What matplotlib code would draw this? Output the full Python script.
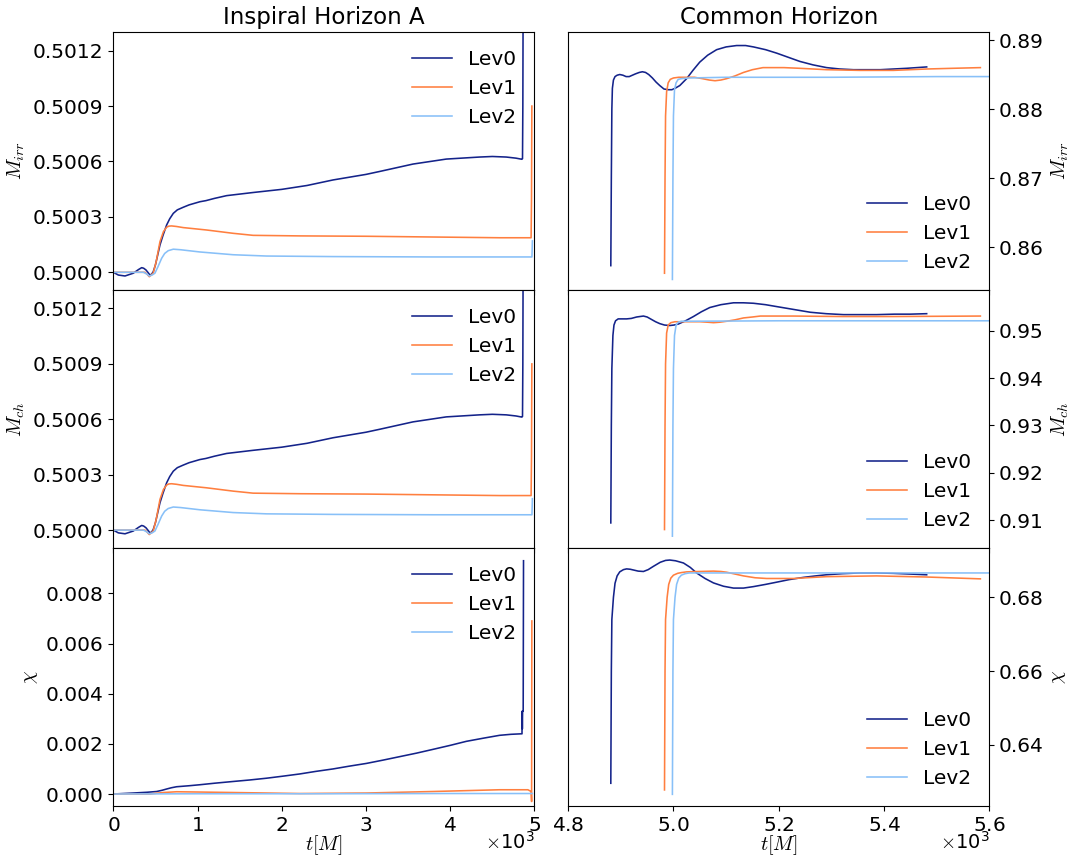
import matplotlib
matplotlib.use("Agg")
import matplotlib.pyplot as plt
from matplotlib.ticker import FormatStrFormatter, FixedLocator

plt.rcParams['mathtext.fontset'] = 'cm'
plt.rcParams['font.family'] = ['DejaVu Sans']

# ---------------- data ----------------
labels = ["Lev0", "Lev1", "Lev2"]
colors = ["#14238a", "#ff7f3f", "#88c0f8"]

# Inspiral horizon A : M_irr
ia_mirr_t0 = [0, 60, 139, 237, 300, 337, 360, 388, 410, 435, 455, 474, 500, 520, 554, 590, 633,
              670, 712, 760, 830, 900, 1028, 1100, 1200, 1345, 1660, 2000, 2300, 2609, 3000,
              3163, 3558, 3953, 4348, 4500, 4665, 4780, 4850, 4858, 4862, 4866]
ia_mirr_v0 = [0.5, 0.499985, 0.49998, 0.499995, 0.500015, 0.500025, 0.500022, 0.5000125, 0.5,
              0.499985, 0.49999, 0.500003, 0.50004, 0.50008, 0.500148, 0.5002, 0.500256,
              0.50029, 0.500319, 0.500338, 0.500352, 0.500365, 0.500382, 0.500388, 0.5004,
              0.500415, 0.500432, 0.500449, 0.50047, 0.5005, 0.50053, 0.500546, 0.500586,
              0.500613, 0.500624, 0.500627, 0.500624, 0.500618, 0.500612, 0.500615, 0.5009,
              0.5016]
ia_mirr_t1 = [0, 317, 376, 400, 427, 450, 474, 510, 554, 595, 633, 660, 692, 750, 830, 1107,
              1423, 1660, 2214, 3005, 3795, 4586, 4960, 4965, 4969]
ia_mirr_v1 = [0.5, 0.5, 0.5, 0.49999, 0.499976, 0.499985, 0.499995, 0.50006, 0.500166, 0.50022,
              0.500244, 0.50025, 0.500251, 0.500248, 0.500242, 0.500229, 0.500211, 0.5002,
              0.500197, 0.500195, 0.500191, 0.500187, 0.500187, 0.5004, 0.5009]
ia_mirr_t2 = [0, 356, 400, 427, 460, 494, 530, 574, 610, 652, 712, 800, 1028, 1423, 1819, 2609,
              3795, 4970, 4973, 4975]
ia_mirr_v2 = [0.5, 0.5, 0.49999, 0.49998, 0.499985, 0.499995, 0.50003, 0.500076, 0.500102,
              0.500117, 0.500125, 0.500122, 0.50011, 0.500095, 0.500088, 0.500085, 0.500083,
              0.500083, 0.50013, 0.50017]

# Inspiral horizon A : M_ch
ia_mch_t0 = [0, 60, 139, 237, 300, 337, 360, 388, 410, 435, 455, 474, 500, 520, 554, 590, 633,
             670, 712, 760, 830, 900, 1028, 1100, 1200, 1345, 1660, 2000, 2300, 2609, 3000,
             3163, 3558, 3953, 4348, 4500, 4665, 4780, 4850, 4858, 4862, 4866]
ia_mch_v0 = [0.5, 0.499985, 0.49998, 0.499995, 0.500015, 0.500025, 0.500022, 0.5000125, 0.5,
             0.499985, 0.49999, 0.500003, 0.50004, 0.50008, 0.500148, 0.5002, 0.500256,
             0.50029, 0.500319, 0.500338, 0.500352, 0.500365, 0.500382, 0.500388, 0.5004,
             0.500415, 0.500432, 0.500449, 0.50047, 0.5005, 0.50053, 0.500546, 0.500586,
             0.500613, 0.500624, 0.500627, 0.500624, 0.500618, 0.500612, 0.500615, 0.5009,
             0.5016]
ia_mch_t1 = [0, 317, 376, 400, 427, 450, 474, 510, 554, 595, 633, 660, 692, 750, 830, 1107,
             1423, 1660, 2214, 3005, 3795, 4586, 4960, 4965, 4969]
ia_mch_v1 = [0.5, 0.5, 0.5, 0.49999, 0.499976, 0.499985, 0.499995, 0.50006, 0.500166, 0.50022,
             0.500244, 0.50025, 0.500251, 0.500248, 0.500242, 0.500229, 0.500211, 0.5002,
             0.500197, 0.500195, 0.500191, 0.500187, 0.500187, 0.5004, 0.5009]
ia_mch_t2 = [0, 356, 400, 427, 460, 494, 530, 574, 610, 652, 712, 800, 1028, 1423, 1819, 2609,
             3795, 4970, 4973, 4975]
ia_mch_v2 = [0.5, 0.5, 0.49999, 0.49998, 0.499985, 0.499995, 0.50003, 0.500076, 0.500102,
             0.500117, 0.500125, 0.500122, 0.50011, 0.500095, 0.500088, 0.500085, 0.500083,
             0.500083, 0.50013, 0.50017]

# Inspiral horizon A : chi
ia_chi_t0 = [0, 237, 400, 514, 580, 633, 690, 751, 900, 1028, 1200, 1423, 1620, 1819, 2010,
             2214, 2400, 2609, 2800, 3005, 3200, 3400, 3600, 3795, 4000, 4191, 4400, 4586,
             4720, 4843, 4852, 4853, 4856, 4859, 4866, 4870]
ia_chi_v0 = [0, 0.00004, 0.00007, 0.0001, 0.00015, 0.0002, 0.00025, 0.00029, 0.00033, 0.00037,
             0.00043, 0.0005, 0.00056, 0.00063, 0.00071, 0.0008, 0.0009, 0.001, 0.00111,
             0.00122, 0.00135, 0.00149, 0.00163, 0.00178, 0.00194, 0.0021, 0.00223, 0.00234,
             0.00238, 0.0024, 0.0024, 0.0033, 0.0026, 0.0033, 0.0033, 0.0093]
ia_chi_t1 = [0, 435, 510, 593, 751, 1000, 1423, 2214, 3005, 3795, 4586, 4922, 4961, 4966, 4969]
ia_chi_v1 = [0, 0, 0.00003, 0.00006, 0.00009, 0.00008, 0.00006, 0.00002, 0.00004, 0.0001,
             0.00017, 0.00017, 0.0001, -0.0003, 0.0069]
ia_chi_t2 = [0, 1000, 2500, 4000, 4975]
ia_chi_v2 = [0, 0.00001, 0.00001, 0.00002, 0.00002]

# Common horizon : M_irr
ch_mirr_t0 = [4881, 4882, 4883, 4884, 4886, 4889, 4893, 4898, 4904, 4910, 4916, 4922, 4928,
              4935, 4941, 4947, 4953, 4960, 4967, 4974, 4982, 4990, 4997, 5003, 5012, 5025,
              5037, 5050, 5065, 5082, 5100, 5120, 5137, 5152, 5175, 5196, 5218, 5240, 5265,
              5291, 5316, 5342, 5368, 5393, 5418, 5443, 5462, 5481]
ch_mirr_v0 = [0.8573, 0.8700, 0.8800, 0.8830, 0.8842, 0.8847, 0.8849, 0.8850, 0.8849, 0.8847,
              0.8847, 0.8849, 0.8851, 0.8853, 0.8854, 0.8853, 0.8850, 0.8845, 0.8839, 0.8834,
              0.8829, 0.8828, 0.8828, 0.8830, 0.8834, 0.8844, 0.8856, 0.8868, 0.8878, 0.8886,
              0.8890, 0.8892, 0.8892, 0.8890, 0.8886, 0.8881, 0.8875, 0.8869, 0.8864, 0.8860,
              0.8858, 0.8857, 0.8857, 0.8857, 0.8858, 0.8859, 0.8860, 0.8861]
ch_mirr_t1 = [4983, 4984, 4985, 4987, 4990, 4994, 5000, 5010, 5025, 5040, 5055, 5068, 5079,
              5090, 5101, 5117, 5133, 5150, 5170, 5189, 5210, 5240, 5291, 5354, 5418, 5481,
              5530, 5583]
ch_mirr_v1 = [0.8562, 0.8700, 0.8790, 0.8825, 0.8838, 0.8843, 0.8845, 0.8846, 0.8846, 0.8846,
              0.8844, 0.8842, 0.8841, 0.8842, 0.8844, 0.8848, 0.8853, 0.8857, 0.8860, 0.8860,
              0.8860, 0.8859, 0.8857, 0.8856, 0.8856, 0.8858, 0.8859, 0.8860]
ch_mirr_t2 = [4998, 4999, 5000, 5002, 5005, 5009, 5015, 5030, 5100, 5300, 5500, 5620]
ch_mirr_v2 = [0.8553, 0.8700, 0.8790, 0.8828, 0.8838, 0.8843, 0.8844, 0.8845, 0.8846, 0.8846,
              0.8847, 0.8847]

# Common horizon : M_ch
ch_mch_t0 = [4881, 4882, 4883, 4885, 4887, 4890, 4895, 4903, 4911, 4920, 4930, 4943, 4950,
             4958, 4966, 4974, 4983, 4993, 5001, 5009, 5023, 5038, 5053, 5069, 5090, 5114,
             5133, 5152, 5175, 5196, 5228, 5260, 5290, 5323, 5355, 5386, 5420, 5450, 5481]
ch_mch_v0 = [0.9094, 0.9300, 0.9420, 0.9490, 0.9512, 0.9521, 0.9525, 0.9525, 0.9525, 0.9526,
             0.9529, 0.9531, 0.9529, 0.9524, 0.9519, 0.9515, 0.9512, 0.9511, 0.9512, 0.9514,
             0.9521, 0.9530, 0.9540, 0.9549, 0.9555, 0.9559, 0.9559, 0.9558, 0.9555, 0.9551,
             0.9545, 0.9539, 0.9536, 0.9534, 0.9534, 0.9534, 0.9535, 0.9535, 0.9536]
ch_mch_t1 = [4983, 4984, 4985, 4987, 4990, 4995, 5003, 5025, 5050, 5065, 5076, 5088, 5101,
             5117, 5133, 5150, 5165, 5228, 5320, 5418, 5583]
ch_mch_v1 = [0.9080, 0.9300, 0.9430, 0.9495, 0.9512, 0.9517, 0.9519, 0.9519, 0.9519, 0.9518,
             0.9517, 0.9518, 0.9520, 0.9523, 0.9527, 0.9529, 0.9531, 0.9531, 0.9530, 0.9530,
             0.9531]
ch_mch_t2 = [4998, 4999, 5000, 5002, 5005, 5009, 5015, 5030, 5200, 5400, 5620]
ch_mch_v2 = [0.9066, 0.9300, 0.9420, 0.9490, 0.9512, 0.9518, 0.9520, 0.9520, 0.9521, 0.9521,
             0.9521]

# Common horizon : chi
ch_chi_t0 = [4881, 4882, 4883, 4886, 4889, 4893, 4898, 4905, 4911, 4918, 4924, 4933, 4943,
             4952, 4962, 4975, 4985, 4993, 5004, 5019, 5032, 5044, 5060, 5076, 5095, 5114,
             5133, 5152, 5175, 5196, 5220, 5247, 5270, 5290, 5320, 5353, 5385, 5417, 5450,
             5481]
ch_chi_v0 = [0.6296, 0.6600, 0.6740, 0.6800, 0.6838, 0.6858, 0.6869, 0.6875, 0.6877, 0.6876,
             0.6874, 0.6871, 0.6870, 0.6875, 0.6884, 0.6895, 0.6900, 0.6901, 0.6899, 0.6893,
             0.6881, 0.6866, 0.6851, 0.6839, 0.6830, 0.6825, 0.6825, 0.6829, 0.6835, 0.6841,
             0.6848, 0.6854, 0.6858, 0.6861, 0.6864, 0.6866, 0.6866, 0.6865, 0.6863, 0.6861]
ch_chi_t1 = [4983, 4984, 4985, 4988, 4991, 4995, 5000, 5008, 5015, 5025, 5050, 5076, 5090,
             5101, 5117, 5133, 5155, 5177, 5228, 5291, 5386, 5481, 5583]
ch_chi_v1 = [0.6278, 0.6600, 0.6740, 0.6800, 0.6835, 0.6852, 0.6860, 0.6865, 0.6867, 0.6869,
             0.6870, 0.6871, 0.6870, 0.6868, 0.6863, 0.6858, 0.6853, 0.6851, 0.6851, 0.6856,
             0.6858, 0.6855, 0.6850]
ch_chi_t2 = [4998, 4999, 5000, 5003, 5006, 5010, 5015, 5022, 5030, 5100, 5300, 5620]
ch_chi_v2 = [0.6266, 0.6600, 0.6740, 0.6800, 0.6835, 0.6852, 0.6860, 0.6864, 0.6866, 0.6866,
             0.6866, 0.6866]

left_ticks_mass = [0.5000, 0.5003, 0.5006, 0.5009, 0.5012]
left_ticks_chi = [0.000, 0.002, 0.004, 0.006, 0.008]
right_ticks_mirr = [0.86, 0.87, 0.88, 0.89]
right_ticks_mch = [0.91, 0.92, 0.93, 0.94, 0.95]
right_ticks_chi = [0.64, 0.66, 0.68]
left_xticks = [0, 1000, 2000, 3000, 4000, 5000]
right_xticks = [4800, 5000, 5200, 5400, 5600]

# ---------------- figure ----------------
fig, axes = plt.subplots(3, 2, figsize=(10.7, 8.56), dpi=100)
fig.subplots_adjust(left=0.1059, right=0.9246, top=0.9626, bottom=0.0584, hspace=0, wspace=0.08)

FS = 14.5
left_data = [
    ([ia_mirr_t0, ia_mirr_t1, ia_mirr_t2], [ia_mirr_v0, ia_mirr_v1, ia_mirr_v2], r'$M_{irr}$',
     (0.499904, 0.501301), left_ticks_mass, '%.4f'),
    ([ia_mch_t0, ia_mch_t1, ia_mch_t2], [ia_mch_v0, ia_mch_v1, ia_mch_v2], r'$M_{ch}$',
     (0.499903, 0.501300), left_ticks_mass, '%.4f'),
    ([ia_chi_t0, ia_chi_t1, ia_chi_t2], [ia_chi_v0, ia_chi_v1, ia_chi_v2], r'$\chi$',
     (-0.000478, 0.009807), left_ticks_chi, '%.3f'),
]
right_data = [
    ([ch_mirr_t0, ch_mirr_t1, ch_mirr_t2], [ch_mirr_v0, ch_mirr_v1, ch_mirr_v2], r'$M_{irr}$',
     (0.85377, 0.89116), right_ticks_mirr, '%.2f'),
    ([ch_mch_t0, ch_mch_t1, ch_mch_t2], [ch_mch_v0, ch_mch_v1, ch_mch_v2], r'$M_{ch}$',
     (0.9041, 0.9586), right_ticks_mch, '%.2f'),
    ([ch_chi_t0, ch_chi_t1, ch_chi_t2], [ch_chi_v0, ch_chi_v1, ch_chi_v2], r'$\chi$',
     (0.62344, 0.69336), right_ticks_chi, '%.2f'),
]

for col, (data, xlim, xticks) in enumerate([(left_data, (0, 5000), left_xticks),
                                             (right_data, (4800, 5600), right_xticks)]):
    for row, (ts, vs, ylab, ylim, yticks, fmt) in enumerate(data):
        ax = axes[row, col]
        for t, v, lab, c in zip(ts, vs, labels, colors):
            ax.plot(t, v, color=c, lw=1.15, label=lab)
        ax.set_xlim(*xlim)
        ax.set_ylim(*ylim)
        ax.yaxis.set_major_locator(FixedLocator(yticks))
        ax.yaxis.set_major_formatter(FormatStrFormatter(fmt))
        ax.xaxis.set_major_locator(FixedLocator(xticks))
        ax.tick_params(labelsize=FS)
        if col == 1:
            ax.yaxis.tick_right()
            ax.yaxis.set_label_position('right')
        ax.set_ylabel(ylab, fontsize=FS)
        ax.legend(loc='upper right' if col == 0 else 'lower right', frameon=False, fontsize=FS)
        if row < 2:
            ax.tick_params(labelbottom=False)
        else:
            ax.ticklabel_format(axis='x', style='sci', scilimits=(3, 3), useMathText=True,
                                useOffset=False)
            ax.xaxis.get_offset_text().set_fontsize(FS - 0.5)
            ax.xaxis.OFFSETTEXTPAD = -2.5
            ax.set_xlabel(r'$t[M]$', fontsize=FS, labelpad=-1)

axes[0, 0].set_title("Inspiral Horizon A", fontsize=16.5)
axes[0, 1].set_title("Common Horizon", fontsize=16.5)

fig.savefig("out.png", dpi=100)
